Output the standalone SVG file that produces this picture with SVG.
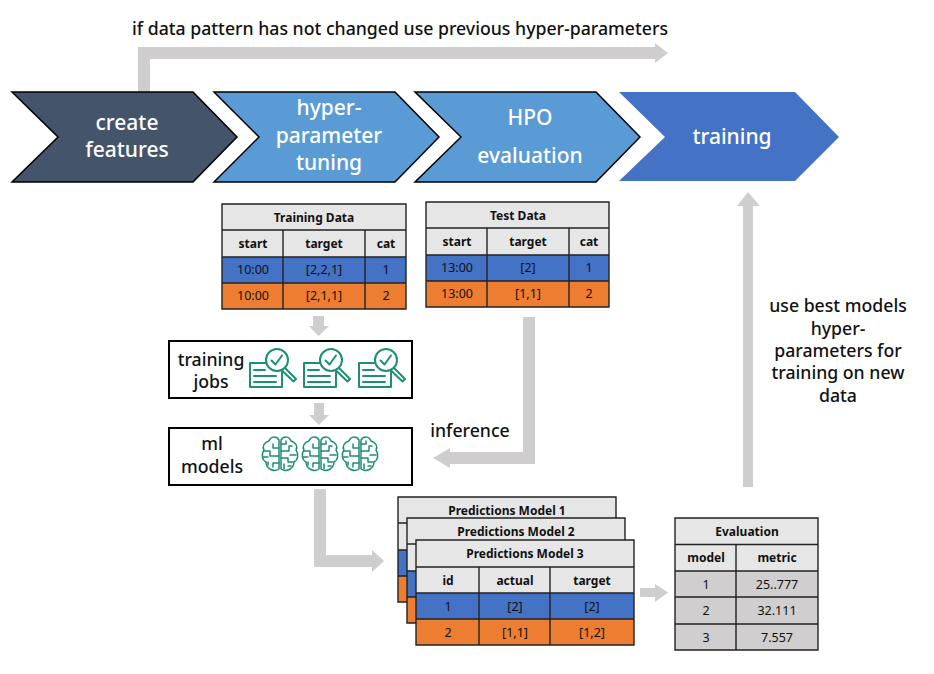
<svg xmlns="http://www.w3.org/2000/svg" xmlns:xlink="http://www.w3.org/1999/xlink" width="934" height="674" viewBox="0 0 934 674">
<style>
text{font-family:"Noto Sans","Open Sans","Liberation Sans",sans-serif;text-anchor:middle;fill:#111}
.lbl{font-size:17.700px;font-weight:500}
.chev{stroke:#000;stroke-width:1.5}
.ct{font-size:21px;fill:#fff;font-weight:500}
.g{fill:none;stroke:#cfcdce;stroke-width:12}
.s{fill:#cfcdce}
.box{fill:#fff;stroke:#000;stroke-width:2}
.h{fill:#e7e6e6}.b{fill:#4472c4}.o{fill:#ed7d31}.y{fill:#d0cece}
.ln{fill:none;stroke:#222;stroke-width:1.4}
.tb{font-size:12px;font-weight:700}
.td{font-size:12.500px}
.ic{fill:none;stroke:#1f8f73;stroke-width:2;stroke-linecap:round;stroke-linejoin:round}
.ic2{fill:none;stroke:#1f8f73;stroke-width:1.500;stroke-linecap:round;stroke-linejoin:round}
</style>
<defs>
<g id="job" class="ic">
<path d="M266 363H250V387H282V372"/><path d="M254 370H265M254 376H276M254 382H276"/>
<circle cx="277" cy="360" r="11"/><path d="M271.500 360.500L275.500 364.500L282 355.500"/><path d="M285 368L296 379L293.500 381.500L282.500 371"/>
</g>
<g id="brain" class="ic2">
<path d="M279 440C276 435 270 437 269 441C264 442 262 447 264 450C261 454 262 460 266 462C266 468 273 473 279 469Z"/>
<path d="M281 440C284 435 290 437 291 441C296 442 298 447 296 450C299 454 298 460 294 462C294 468 287 473 281 469Z"/>
<path d="M279 448H273V444M279 456H270V451H264M263 457H268M279 463H273V467M268 462V465"/>
<path d="M281 444H286V441M281 451H289V446H292M281 458H288V462H293M296 455H290M284 464V469M288 466H291"/>
</g>
</defs>

<g id="connectors">
<path class="g" d="M144 92V53H656"/><path class="s" d="M655 43L668 53L655 63Z"/>
<path class="s" d="M313 316H324V326H329L318.500 336L309 326H313Z"/>
<path class="s" d="M314 403H324V415H329L319 425L309 415H314Z"/>
<path class="g" d="M529 317V458H448"/><path class="s" d="M450 448L433 458L450 468Z"/>
<path class="g" d="M320 489V561H373"/><path class="s" d="M372 550L384 561L372 572Z"/>
<path class="g" d="M748 487V204" style="stroke-width:10"/><path class="s" d="M737 206L748 192L760 206Z"/>
<path class="s" d="M640 588H655V584L668 592.500L655 602V597H640Z"/>
</g>

<text class="lbl" x="400" y="35">if data pattern has not changed use previous hyper-parameters</text>

<g id="create-features"><path class="chev" style="fill:#44546a" d="M12 92H193L237 137L193 182H12L58 137Z"/><text class="ct" x="127" y="130">create</text><text class="ct" x="127" y="157">features</text></g>
<g id="hyper-parameter-tuning"><path class="chev" style="fill:#5b9bd5" d="M214 92H395L439 137L395 182H214L259 137Z"/><text class="ct" x="329" y="115">hyper-</text><text class="ct" x="329" y="143">parameter</text><text class="ct" x="329" y="170">tuning</text></g>
<g id="hpo-evaluation"><path class="chev" style="fill:#5b9bd5" d="M415 92H596L640 137L596 182H415L461 137Z"/><text class="ct" x="530" y="125">HPO</text><text class="ct" x="530" y="163">evaluation</text></g>
<g id="training"><path style="fill:#4472c4" d="M619 92H795L839 137L795 181H619L665 137Z"/><text class="ct" x="732" y="144">training</text></g>

<g id="training-data">
<rect class="h" x="222" y="204" width="184" height="53"/><rect class="b" x="222" y="257" width="184" height="26"/><rect class="o" x="222" y="283" width="184" height="26"/>
<path class="ln" d="M222 204H406V309H222ZM222 230H406M222 257H406M222 283H406M283 230V309M365 230V309"/>
<text class="tb" x="314" y="222">Training Data</text><text class="tb" x="253" y="248">start</text><text class="tb" x="324" y="248">target</text><text class="tb" x="386" y="248">cat</text>
<text class="td" x="253" y="274">10:00</text><text class="td" x="324" y="274">[2,2,1]</text><text class="td" x="386" y="274">1</text>
<text class="td" x="253" y="300">10:00</text><text class="td" x="324" y="300">[2,1,1]</text><text class="td" x="386" y="300">2</text>
</g>
<g id="test-data">
<rect class="h" x="426" y="202" width="183" height="53"/><rect class="b" x="426" y="255" width="183" height="26"/><rect class="o" x="426" y="281" width="183" height="26"/>
<path class="ln" d="M426 202H609V307H426ZM426 228H609M426 255H609M426 281H609M487 228V307M569 228V307"/>
<text class="tb" x="518" y="220">Test Data</text><text class="tb" x="457" y="246">start</text><text class="tb" x="528" y="246">target</text><text class="tb" x="589" y="246">cat</text>
<text class="td" x="457" y="272">13:00</text><text class="td" x="528" y="272">[2]</text><text class="td" x="589" y="272">1</text>
<text class="td" x="457" y="298">13:00</text><text class="td" x="528" y="298">[1,1]</text><text class="td" x="589" y="298">2</text>
</g>

<g id="training-jobs"><rect class="box" x="169" y="341" width="243" height="57"/><text class="lbl" x="211" y="366">training</text><text class="lbl" x="211" y="388">jobs</text>
<use href="#job"/><use href="#job" x="54"/><use href="#job" x="109"/></g>
<g id="ml-models"><rect class="box" x="169" y="428" width="243" height="57"/><text class="lbl" x="212" y="450">ml</text><text class="lbl" x="212" y="473">models</text>
<use href="#brain"/><use href="#brain" x="40"/><use href="#brain" x="80"/></g>

<text class="lbl" x="470" y="437">inference</text>
<text class="lbl" x="838" y="312">use best models</text><text class="lbl" x="838" y="335">hyper-</text><text class="lbl" x="838" y="357">parameters for</text><text class="lbl" x="838" y="379">training on new</text><text class="lbl" x="838" y="402">data</text>

<g id="predictions-1">
<rect class="h" x="398" y="497" width="218" height="53"/><rect class="b" x="398" y="550" width="218" height="26"/><rect class="o" x="398" y="576" width="218" height="26"/>
<path class="ln" d="M398 497H616V602H398ZM398 523H616M398 550H616M398 576H616"/>
<text class="tb" x="507" y="515">Predictions Model 1</text>
</g>
<g id="predictions-2">
<rect class="h" x="407" y="518" width="218" height="53"/><rect class="b" x="407" y="571" width="218" height="26"/><rect class="o" x="407" y="597" width="218" height="26"/>
<path class="ln" d="M407 518H625V623H407ZM407 544H625M407 571H625M407 597H625"/>
<text class="tb" x="516" y="536">Predictions Model 2</text>
</g>
<g id="predictions-3">
<rect class="h" x="416" y="540" width="218" height="53"/><rect class="b" x="416" y="593" width="218" height="26"/><rect class="o" x="416" y="619" width="218" height="26"/>
<path class="ln" d="M416 540H634V645H416ZM416 567H634M416 593H634M416 619H634M479 567V645M550 567V645"/>
<text class="tb" x="525" y="558">Predictions Model 3</text><text class="tb" x="448" y="585">id</text><text class="tb" x="515" y="585">actual</text><text class="tb" x="592" y="585">target</text>
<text class="td" x="448" y="611">1</text><text class="td" x="515" y="611">[2]</text><text class="td" x="592" y="611">[2]</text>
<text class="td" x="448" y="637">2</text><text class="td" x="515" y="637">[1,1]</text><text class="td" x="592" y="637">[1,2]</text>
</g>
<g id="evaluation">
<rect class="h" x="675" y="518" width="143" height="53"/><rect class="y" x="675" y="571" width="143" height="79"/>
<path class="ln" d="M675 518H818V650H675ZM675 544.500H818M675 571H818M675 597H818M675 624H818M736 544.500V650"/>
<text class="tb" x="747" y="536">Evaluation</text><text class="tb" x="706" y="562">model</text><text class="tb" x="777" y="562">metric</text>
<text class="td" x="706" y="589">1</text><text class="td" x="777" y="589">25..777</text>
<text class="td" x="706" y="615">2</text><text class="td" x="777" y="615">32.111</text>
<text class="td" x="706" y="642">3</text><text class="td" x="777" y="642">7.557</text>
</g>
</svg>
